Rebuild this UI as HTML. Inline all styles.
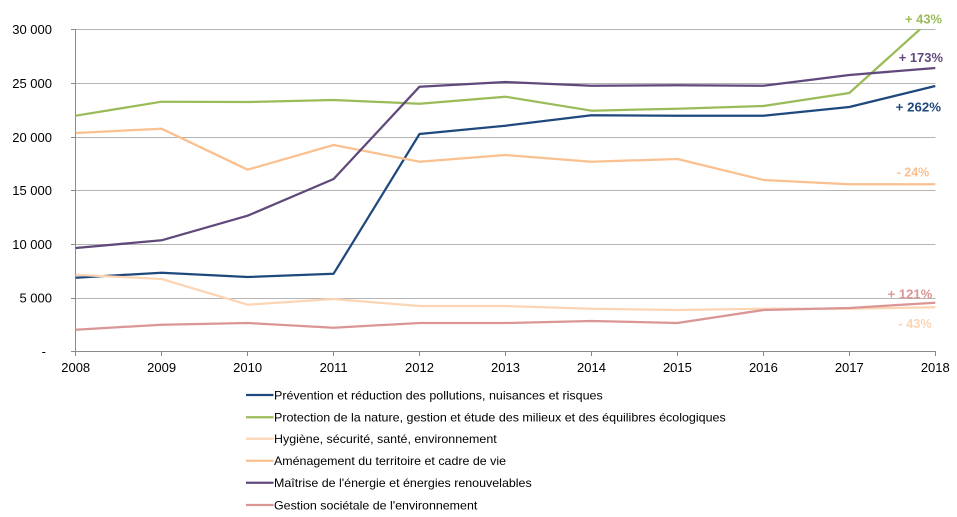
<!DOCTYPE html>
<html><head><meta charset="utf-8"><style>
html,body{margin:0;padding:0;background:#fff;}
svg{display:block;font-family:"Liberation Sans",Arial,sans-serif;}
</style></head><body>
<svg width="957" height="517" viewBox="0 0 957 517" xmlns="http://www.w3.org/2000/svg">
<defs><clipPath id="pa"><rect x="70" y="29" width="870" height="323"/></clipPath></defs>
<g stroke="#b4b4b4" stroke-width="1">
<line x1="71" y1="29.5" x2="935.5" y2="29.5"/>
<line x1="71" y1="83.5" x2="935.5" y2="83.5"/>
<line x1="71" y1="137.5" x2="935.5" y2="137.5"/>
<line x1="71" y1="190.5" x2="935.5" y2="190.5"/>
<line x1="71" y1="244.5" x2="935.5" y2="244.5"/>
<line x1="71" y1="298.5" x2="935.5" y2="298.5"/>
</g>
<g stroke="#8a8a8a" stroke-width="1">
<line x1="75.5" y1="29" x2="75.5" y2="352"/>
<line x1="71" y1="351.5" x2="935.5" y2="351.5"/>
<line x1="71" y1="29.5" x2="75.5" y2="29.5"/>
<line x1="71" y1="83.5" x2="75.5" y2="83.5"/>
<line x1="71" y1="137.5" x2="75.5" y2="137.5"/>
<line x1="71" y1="190.5" x2="75.5" y2="190.5"/>
<line x1="71" y1="244.5" x2="75.5" y2="244.5"/>
<line x1="71" y1="298.5" x2="75.5" y2="298.5"/>
<line x1="75.5" y1="351" x2="75.5" y2="356"/>
<line x1="161.5" y1="351" x2="161.5" y2="356"/>
<line x1="247.5" y1="351" x2="247.5" y2="356"/>
<line x1="333.5" y1="351" x2="333.5" y2="356"/>
<line x1="419.5" y1="351" x2="419.5" y2="356"/>
<line x1="505.5" y1="351" x2="505.5" y2="356"/>
<line x1="591.5" y1="351" x2="591.5" y2="356"/>
<line x1="677.5" y1="351" x2="677.5" y2="356"/>
<line x1="763.5" y1="351" x2="763.5" y2="356"/>
<line x1="849.5" y1="351" x2="849.5" y2="356"/>
<line x1="935.5" y1="351" x2="935.5" y2="356"/>
</g>
<g font-size="13" fill="#000" text-anchor="end">
<text x="52" y="34">30 000</text>
<text x="52" y="88">25 000</text>
<text x="52" y="142">20 000</text>
<text x="52" y="195">15 000</text>
<text x="52" y="249">10 000</text>
<text x="52" y="302.5">5 000</text>
<text x="46" y="356">-</text>
</g>
<g font-size="13" fill="#000" text-anchor="middle">
<text x="75.7" y="372">2008</text>
<text x="161.6" y="372">2009</text>
<text x="247.6" y="372">2010</text>
<text x="333.6" y="372">2011</text>
<text x="419.5" y="372">2012</text>
<text x="505.5" y="372">2013</text>
<text x="591.5" y="372">2014</text>
<text x="677.4" y="372">2015</text>
<text x="763.4" y="372">2016</text>
<text x="849.3" y="372">2017</text>
<text x="935.3" y="372">2018</text>
</g>
<g clip-path="url(#pa)" fill="none" stroke-width="2.25" stroke-linejoin="round">
<polyline stroke="#1f497d" points="75.7,277.7 161.6,272.7 247.6,277 333.6,273.7 419.5,134 505.5,125.7 591.5,115.3 677.4,115.7 763.4,115.7 849.3,107 935.3,86"/>
<polyline stroke="#9bbb59" points="75.7,115.7 161.6,101.7 247.6,102 333.6,100 419.5,103.7 505.5,96.7 591.5,110.7 677.4,108.7 763.4,106 849.3,93 935.3,15.5"/>
<polyline stroke="#fcd5b5" points="75.7,274.7 161.6,279 247.6,304.7 333.6,299 419.5,306 505.5,306 591.5,308.7 677.4,310 763.4,308.7 849.3,308.7 935.3,307.3"/>
<polyline stroke="#fac090" points="75.7,133 161.6,128.7 247.6,169.7 333.6,145 419.5,161.7 505.5,155 591.5,161.7 677.4,159 763.4,180 849.3,184.3 935.3,184.3"/>
<polyline stroke="#604a7b" points="75.7,248 161.6,240.3 247.6,215.7 333.6,179 419.5,86.7 505.5,82 591.5,85.7 677.4,85.3 763.4,85.7 849.3,75 935.3,68"/>
<polyline stroke="#d99694" points="75.7,329.7 161.6,324.7 247.6,323 333.6,327.7 419.5,323 505.5,323 591.5,321 677.4,323 763.4,310 849.3,308 935.3,302.7"/>
</g>
<g font-size="13" font-weight="bold">
<text x="905" y="23.7" fill="#9bbb59" textLength="37" lengthAdjust="spacingAndGlyphs">+ 43%</text>
<text x="898.7" y="62" fill="#604a7b" textLength="44.3" lengthAdjust="spacingAndGlyphs">+ 173%</text>
<text x="895.7" y="111.4" fill="#1f497d" textLength="45.3" lengthAdjust="spacingAndGlyphs">+ 262%</text>
<text x="896.7" y="176.4" fill="#fac090" textLength="32.6" lengthAdjust="spacingAndGlyphs">- 24%</text>
<text x="887.7" y="298.7" fill="#d99694" textLength="44.6" lengthAdjust="spacingAndGlyphs">+ 121%</text>
<text x="898.3" y="328" fill="#fcd5b5" textLength="33.4" lengthAdjust="spacingAndGlyphs">- 43%</text>
</g>
<g stroke-width="2.25">
<line x1="246" y1="395" x2="273.5" y2="395" stroke="#1f497d"/>
<line x1="246" y1="417.3" x2="273.5" y2="417.3" stroke="#9bbb59"/>
<line x1="246" y1="438.7" x2="273.5" y2="438.7" stroke="#fcd5b5"/>
<line x1="246" y1="460.7" x2="273.5" y2="460.7" stroke="#fac090"/>
<line x1="246" y1="482.7" x2="273.5" y2="482.7" stroke="#604a7b"/>
<line x1="246" y1="505" x2="273.5" y2="505" stroke="#d99694"/>
</g>
<g font-size="12" fill="#000">
<text x="274" y="399.3" textLength="328.7" lengthAdjust="spacingAndGlyphs">Prévention et réduction des pollutions, nuisances et risques</text>
<text x="274" y="421.6" textLength="451.7" lengthAdjust="spacingAndGlyphs">Protection de la nature, gestion et étude des milieux et des équilibres écologiques</text>
<text x="274" y="443" textLength="222.7" lengthAdjust="spacingAndGlyphs">Hygiène, sécurité, santé, environnement</text>
<text x="274" y="465" textLength="232" lengthAdjust="spacingAndGlyphs">Aménagement du territoire et cadre de vie</text>
<text x="274" y="487" textLength="257.7" lengthAdjust="spacingAndGlyphs">Maîtrise de l'énergie et énergies renouvelables</text>
<text x="274" y="509.3" textLength="203.3" lengthAdjust="spacingAndGlyphs">Gestion sociétale de l'environnement</text>
</g>
</svg>
</body></html>
